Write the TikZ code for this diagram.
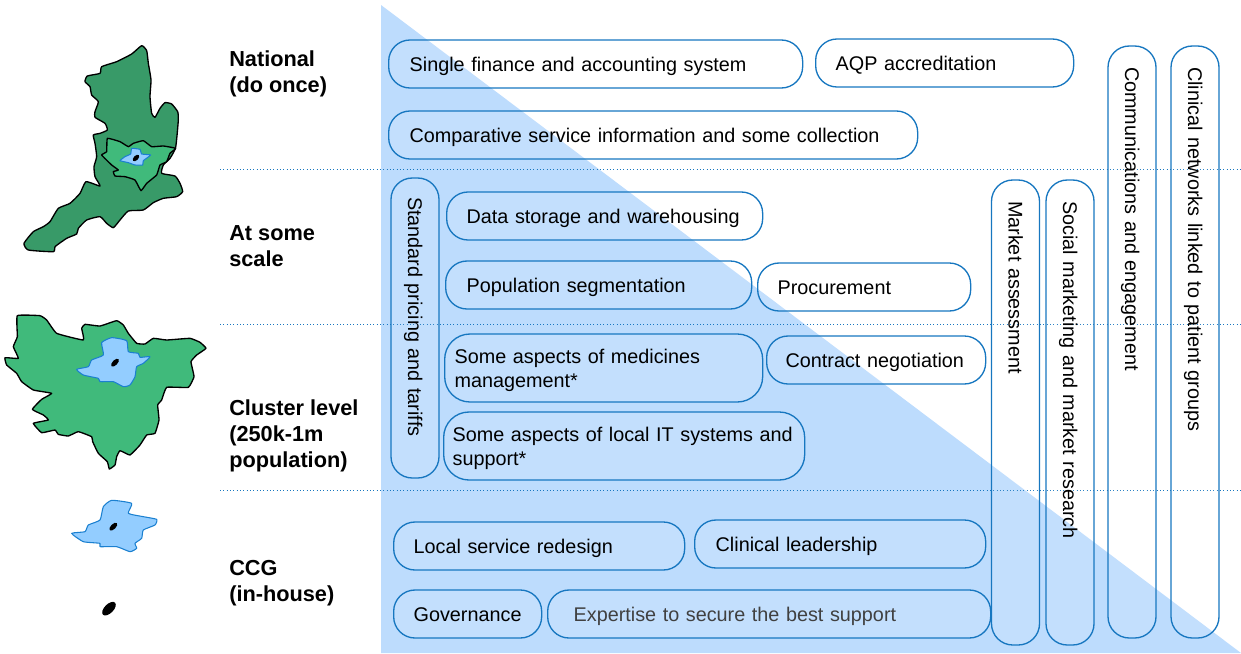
\documentclass[tikz,border=0pt]{standalone}
\usepackage{fontspec}
\setmainfont{Liberation Sans}
\usetikzlibrary{positioning, shapes.geometric}
\definecolor{triblue}{RGB}{189,220,253}
\definecolor{pillblue}{RGB}{23,119,192}
\definecolor{darkmap}{RGB}{56,154,104}
\definecolor{lightmap}{RGB}{64,186,123}
\definecolor{ccgblue}{RGB}{147,205,255}
\definecolor{ccgline}{RGB}{27,128,208}
\newcommand{\pillrise}{17.2pt}
\tikzset{
  pill/.style 2 args={ draw=pillblue, line width=1pt, fill=white, fill opacity=0.1, text opacity=1,
    rounded corners=16pt, anchor=west, align=left, inner xsep=#2*0.75pt, inner ysep=0pt,
    text width=(#1-2*#2)*0.75pt, minimum height=48*0.75pt, font=\fontsize{14.85}{18}\selectfont,
    execute at begin node=\rule{0pt}{\pillrise}, execute at end node=\strut }
}
\tikzset{
  tallpill/.style 2 args={ pill={#1}{#2}, rotate=-90, anchor=center,
    /utils/exec={\def\pillrise{15.6pt}} }
}
\tikzset{
  level/.style={ anchor=north west, align=left, inner sep=0pt, font=\fontsize{16.3}{19.5}\selectfont\bfseries }
}
\tikzset{
  levelline/.style={ draw=pillblue, dotted, line width=0.5pt }
}
\tikzset{
  wide/.style={ draw=black, line width=1pt, line join=round, fill=darkmap }
}
\tikzset{
  cluster/.style={ draw=black, line width=1pt, line join=round, fill=lightmap }
}
\tikzset{
  ccg/.style={ draw=ccgline, line width=0.8pt, line join=round, fill=ccgblue }
}
\tikzset{
  practice/.style={ ellipse, fill=black, inner sep=0pt, rotate=45 }
}
\begin{document}
\begin{tikzpicture}[x=0.75pt, y=-0.75pt]
  \useasboundingbox (0,0) rectangle (1241,653);
  \fill[triblue] (381,5) -- (381,653) -- (1241,653) -- cycle;
  % level separators
  \coordinate (s1) at (220,169);
  \coordinate (e1) at (1241,169);
  \coordinate (s2) at (220,324);
  \coordinate (e2) at (1241,324);
  \coordinate (s3) at (220,490);
  \coordinate (e3) at (1241,490);
  \draw[levelline] (s1) -- (e1);
  \draw[levelline] (s2) -- (e2);
  \draw[levelline] (s3) -- (e3);
  % maps, traced at 3x
  \begin{scope}[x=0.25pt, y=-0.25pt, shift={(0,90)}]
    \draw[wide] plot[smooth cycle, tension=0.3] coordinates {(425,47) (440,62) (445,100) (453,150) (450,200) (455,250) (465,262) (480,235) (495,218) (515,222) (533,245) (535,270) (527,352) (510,385) (490,405) (485,430) (525,438) (540,460) (548,485) (530,500) (490,505) (460,518) (430,540) (385,543) (360,570) (340,593) (320,580) (300,560) (260,570) (235,595) (230,612) (200,625) (165,650) (160,665) (85,660) (72,640) (100,605) (130,590) (150,575) (175,535) (210,520) (240,490) (258,455) (300,468) (285,440) (282,410) (290,380) (285,340) (280,315) (300,310) (322,300) (315,280) (285,262) (285,245) (295,215) (275,195) (270,170) (255,155) (262,138) (300,130) (305,110) (350,95) (395,72)};
    \draw[cluster] plot[smooth cycle, tension=0.2] coordinates {(322,325) (360,335) (385,350) (400,340) (430,332) (455,350) (490,348) (527,355) (510,370) (500,395) (480,405) (470,435) (440,460) (423,482) (405,450) (375,440) (345,438) (340,425) (355,420) (335,405) (305,375) (320,365)};
    \draw[ccg] plot[smooth cycle, tension=0.2] coordinates {(395,355) (420,358) (425,372) (452,375) (430,392) (428,405) (405,405) (385,398) (360,392) (375,380) (392,372)};
    \node[practice, minimum width=8*0.75pt, minimum height=4.5*0.75pt] (dot1) at (408,384) {};
  \end{scope}
  \begin{scope}[x=0.25pt, y=-0.25pt, shift={(0,900)}]
    \draw[cluster] plot[smooth cycle, tension=0.2] coordinates {(52,47) (120,47) (140,60) (170,100) (250,120) (245,85) (255,73) (300,78) (350,62) (370,75) (385,100) (410,130) (435,132) (460,115) (500,120) (570,115) (600,127) (618,145) (590,165) (573,185) (582,230) (565,262) (500,262) (485,300) (473,315) (477,360) (465,400) (440,405) (420,435) (390,465) (360,452) (350,470) (345,495) (328,507) (322,485) (295,460) (278,425) (275,410) (235,395) (205,408) (175,403) (165,390) (125,398) (100,370) (145,360) (130,345) (97,328) (125,298) (155,280) (100,270) (65,245) (50,220) (20,195) (15,173) (55,175) (40,140) (52,110)};
    \draw[ccg] plot[smooth cycle, tension=0.3] coordinates {(335,113) (380,122) (385,155) (415,160) (420,172) (450,170) (430,190) (410,200) (405,230) (390,255) (370,260) (340,245) (300,245) (295,235) (250,225) (230,208) (265,200) (275,180) (310,165) (305,128)};
    \node[practice, minimum width=10*0.75pt, minimum height=5*0.75pt] (dot2) at (345,188) {};
    \draw[ccg] plot[smooth cycle, tension=0.3] coordinates {(335,601) (395,610) (385,640) (430,650) (470,658) (465,675) (430,690) (425,715) (405,730) (410,745) (390,755) (350,740) (300,740) (300,730) (250,725) (215,700) (255,695) (265,675) (300,660) (310,620)};
    \node[practice, minimum width=10*0.75pt, minimum height=5*0.75pt] (dot3) at (340,680) {};
    \node[practice, minimum width=17*0.75pt, minimum height=9*0.75pt] (dot4) at (327,926) {};
  \end{scope}
  % level labels
  \node[level] (national) at (229,50) {National\\(do once)};
  \node[level] (scale) at (229,225) {At some\\scale};
  \node[level] (clusterlevel) at (229,399) {Cluster level\\(250k-1m\\population)};
  \node[level] (inhouse) at (229,560) {CCG\\(in-house)};
  % functions
  \node[pill={414}{21}] (finance) at (388,64) {Single finance and accounting system};
  \node[pill={258}{20}] (aqp) at (815,63) {AQP accreditation};
  \node[pill={529}{21}] (comparative) at (388,135) {Comparative service information and some collection};
  \node[pill={316}{20}] (storage) at (446,216) {Data storage and warehousing};
  \node[pill={306}{21}] (segmentation) at (445,285) {Population segmentation};
  \node[pill={213}{20}] (procurement) at (757,287) {Procurement};
  \node[pill={318}{10}, minimum height=68*0.75pt, rounded corners=19pt] (medicines) at (444,368) {Some aspects of medicines management*};
  \node[pill={219}{19}] (contract) at (766,360) {Contract negotiation};
  \node[pill={361}{9}, minimum height=68*0.75pt, rounded corners=19pt] (itsystems) at (443,446) {Some aspects of local IT systems and support*};
  \node[pill={291}{20}] (redesign) at (393,546) {Local service redesign};
  \node[pill={291}{21}] (leadership) at (694,544) {Clinical leadership};
  \node[pill={148}{20}] (governance) at (393,614) {Governance};
  \node[pill={443}{26}, text=black!75] (expertise) at (547,614) {Expertise to secure the best support};
  \node[tallpill={300}{19}] (pricing) at (415,328) {Standard pricing and tariffs};
  \node[tallpill={465}{21}] (assessment) at (1015.5,412.5) {Market assessment};
  \node[tallpill={465}{21}] (research) at (1070,412.5) {Social marketing and market research};
  \node[tallpill={592}{21}] (communications) at (1132,342) {Communications and engagement};
  \node[tallpill={592}{21}] (networks) at (1195,342) {Clinical networks linked to patient groups};
\end{tikzpicture}
\end{document}
